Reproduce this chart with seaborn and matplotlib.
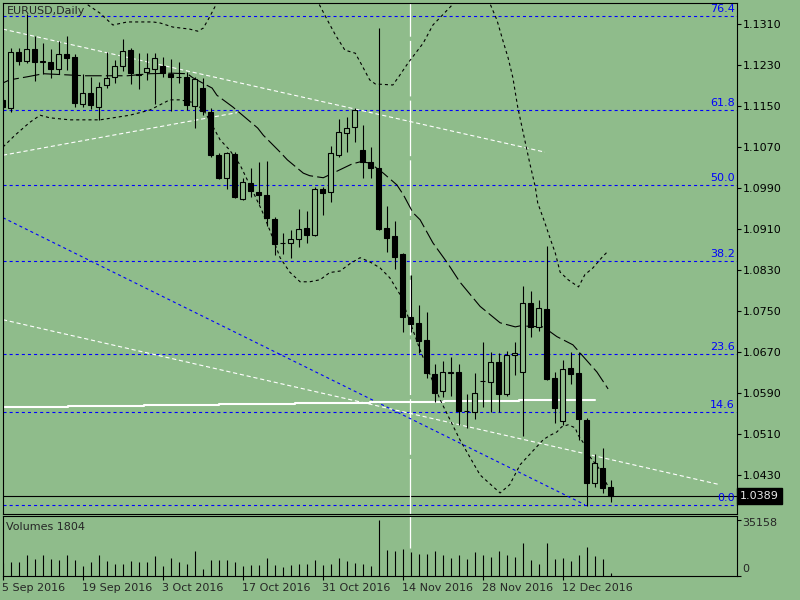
import numpy as np
import pandas as pd
import matplotlib
matplotlib.use("Agg")
import matplotlib.pyplot as plt
import matplotlib.transforms as mtransforms
import seaborn as sns

# chart texts
symbol_title = "EURUSD,Daily"
volume_title = "Volumes 1804"
date_labels = ["5 Sep 2016", "19 Sep 2016", "3 Oct 2016", "17 Oct 2016",
               "31 Oct 2016", "14 Nov 2016", "28 Nov 2016", "12 Dec 2016"]
date_label_bars = [0, 10, 20, 30, 40, 50, 60, 70]

# daily candles, 5 Sep 2016 .. 20 Dec 2016
opens = [1.1162, 1.1146, 1.1255, 1.1238, 1.1261, 1.1236, 1.1236, 1.1222, 1.1251, 1.1246,
         1.1154, 1.1175, 1.1148, 1.1191, 1.1207, 1.1228, 1.1259, 1.1212, 1.1216, 1.1222,
         1.1228, 1.1213, 1.1207, 1.1207, 1.1150, 1.1185, 1.1138, 1.1055, 1.1010, 1.1057,
         1.0969, 1.1000, 1.0982, 1.0977, 1.0930, 1.0883, 1.0883, 1.0891, 1.0912, 1.0899,
         1.0988, 1.0982, 1.1055, 1.1097, 1.1109, 1.1064, 1.1041, 1.1029, 1.0912, 1.0897,
         1.0862, 1.0739, 1.0727, 1.0694, 1.0627, 1.0594, 1.0629, 1.0631, 1.0555, 1.0553,
         1.0614, 1.0612, 1.0651, 1.0589, 1.0665, 1.0631, 1.0766, 1.0719, 1.0754, 1.0620,
         1.0536, 1.0639, 1.0629, 1.0538, 1.0415, 1.0444, 1.0407]
highs = [1.1166, 1.1263, 1.1263, 1.1330, 1.1287, 1.1273, 1.1261, 1.1277, 1.1287, 1.1251,
         1.1213, 1.1207, 1.1197, 1.1255, 1.1240, 1.1281, 1.1263, 1.1253, 1.1253, 1.1253,
         1.1246, 1.1242, 1.1236, 1.1216, 1.1207, 1.1205, 1.1146, 1.1058, 1.1060, 1.1060,
         1.1010, 1.1029, 1.1041, 1.1043, 1.0934, 1.0902, 1.0908, 1.0949, 1.0945, 1.0992,
         1.0992, 1.1072, 1.1125, 1.1129, 1.1146, 1.1113, 1.1070, 1.1302, 1.0955, 1.0926,
         1.0863, 1.0821, 1.0762, 1.0748, 1.0647, 1.0653, 1.0661, 1.0647, 1.0589, 1.0629,
         1.0690, 1.0670, 1.0668, 1.0672, 1.0690, 1.0799, 1.0789, 1.0772, 1.0877, 1.0631,
         1.0655, 1.0670, 1.0670, 1.0542, 1.0470, 1.0483, 1.0421]
lows = [1.1144, 1.1138, 1.1230, 1.1234, 1.1199, 1.1213, 1.1205, 1.1213, 1.1220, 1.1148,
        1.1148, 1.1144, 1.1123, 1.1185, 1.1195, 1.1218, 1.1193, 1.1183, 1.1201, 1.1154,
        1.1207, 1.1140, 1.1195, 1.1142, 1.1107, 1.1133, 1.1051, 1.1008, 1.0988, 1.0971,
        1.0967, 1.0973, 1.0959, 1.0916, 1.0860, 1.0862, 1.0854, 1.0875, 1.0883, 1.0897,
        1.0938, 1.0963, 1.1051, 1.1060, 1.1080, 1.1010, 1.1010, 1.0908, 1.0865, 1.0832,
        1.0709, 1.0709, 1.0668, 1.0620, 1.0573, 1.0583, 1.0585, 1.0528, 1.0522, 1.0540,
        1.0563, 1.0553, 1.0553, 1.0585, 1.0626, 1.0507, 1.0700, 1.0711, 1.0616, 1.0532,
        1.0528, 1.0608, 1.0499, 1.0370, 1.0407, 1.0395, 1.0378]
closes = [1.1148, 1.1255, 1.1238, 1.1261, 1.1236, 1.1237, 1.1222, 1.1251, 1.1244, 1.1156,
          1.1175, 1.1152, 1.1187, 1.1205, 1.1228, 1.1257, 1.1214, 1.1211, 1.1224, 1.1244,
          1.1214, 1.1207, 1.1206, 1.1152, 1.1203, 1.1140, 1.1055, 1.1010, 1.1058, 1.0973,
          1.1002, 1.0984, 1.0977, 1.0932, 1.0881, 1.0882, 1.0891, 1.0910, 1.0899, 1.0988,
          1.0980, 1.1058, 1.1099, 1.1107, 1.1142, 1.1041, 1.1029, 1.0910, 1.0893, 1.0856,
          1.0739, 1.0725, 1.0692, 1.0629, 1.0590, 1.0631, 1.0630, 1.0555, 1.0554, 1.0590,
          1.0613, 1.0651, 1.0589, 1.0665, 1.0668, 1.0766, 1.0719, 1.0756, 1.0618, 1.0561,
          1.0637, 1.0627, 1.0540, 1.0415, 1.0454, 1.0405, 1.0389]
volumes = [8000, 8680, 8680, 13020, 10420, 13020, 10420, 9770, 13020, 9770,
           6510, 8680, 13020, 9110, 7810, 7810, 9110, 8680, 8680, 12370,
           6510, 11070, 8680, 7810, 15620, 4340, 9770, 9770, 9770, 8680,
           6510, 6940, 6940, 11070, 6940, 5640, 6940, 7810, 7810, 9770,
           6940, 7810, 11070, 9110, 8250, 7810, 6510, 35158, 16280, 15620,
           16930, 15190, 13670, 13670, 15620, 13020, 11500, 13020, 10420, 15190,
           13020, 11720, 15620, 13020, 11720, 20830, 9770, 7810, 20830, 10420,
           11070, 9110, 13020, 18010, 12370, 10420, 1804]

price_ticks = [1.1310, 1.1230, 1.1150, 1.1070, 1.0990, 1.0910, 1.0830,
               1.0750, 1.0670, 1.0590, 1.0510, 1.0430]
last_price = 1.0389
volume_max = 35158

# fibonacci retracement
fib_low = 1.0371
fib_high = 1.1620
fib_levels = [0.0, 14.6, 23.6, 38.2, 50.0, 61.8, 76.4]

# indicator lines, (bar position, price)
ma_x = [0.06, 0.9, 3.1, 5.1, 10.3, 15.6, 18.4, 21.2, 23.1, 23.8, 26.2, 26.8, 28.8, 29.7,
        31.9, 32.6, 34.7, 35.6, 37.6, 38.4, 40.1, 41.3, 43.7, 44.7, 45.9, 47.6, 49.3,
        50.1, 51.3, 52.2, 53.8, 55.6, 57.2, 59.7, 62.2, 64.1, 64.7, 67.6, 69.3, 71.3,
        72.6, 74.3, 75.7]
ma_y = [1.1195, 1.1201, 1.1207, 1.1213, 1.1209, 1.1209, 1.1213, 1.1214, 1.1213, 1.1205,
        1.1185, 1.1171, 1.1148, 1.1136, 1.1107, 1.1093, 1.1060, 1.1045, 1.1019, 1.1014,
        1.1010, 1.1019, 1.1037, 1.1041, 1.1039, 1.1019, 1.0996, 1.0977, 1.0942, 1.0928,
        1.0883, 1.0844, 1.0806, 1.0759, 1.0727, 1.0719, 1.0721, 1.0719, 1.0700, 1.0684,
        1.0661, 1.0631, 1.0598]

upper_a_x = [9.5, 10.7, 12.2, 13.8, 15.6, 18.8, 19.7, 21.3, 23.4, 24.4, 25.1, 25.9, 26.8, 27.5]
upper_a_y = [1.1390, 1.1347, 1.1331, 1.1308, 1.1314, 1.1314, 1.1312, 1.1304, 1.1300, 1.1296,
             1.1302, 1.1324, 1.1351, 1.1380]
upper_b_x = [38.8, 39.4, 40.6, 41.6, 42.8, 44.1, 44.7, 45.9, 46.6, 48.8, 49.7, 50.7, 52.6,
             53.8, 56.2, 57.0]
upper_b_y = [1.1380, 1.1354, 1.1318, 1.1289, 1.1259, 1.1253, 1.1236, 1.1201, 1.1193, 1.1191,
             1.1211, 1.1234, 1.1273, 1.1308, 1.1347, 1.1370]
upper_c_x = [60.5, 60.9, 61.8, 62.6, 63.2, 63.8, 64.4, 65.1, 65.9, 66.6, 66.9, 67.8, 68.4,
             69.1, 69.7, 70.7, 72.0, 72.8, 73.8, 74.9, 75.7]
upper_c_y = [1.1370, 1.1351, 1.1318, 1.1275, 1.1244, 1.1205, 1.1148, 1.1097, 1.1039, 1.0992,
             1.0961, 1.0922, 1.0894, 1.0863, 1.0826, 1.0811, 1.0797, 1.0821, 1.0834, 1.0854,
             1.0867]
lower_x = [0.06, 1.56, 3.4, 4.7, 5.9, 8.4, 12.2, 15.9, 18.4, 20.9, 22.2, 24.1, 25.3, 26.2,
           27.2, 28.4, 29.7, 30.9, 32.4, 33.4, 34.7, 35.9, 37.2, 38.4, 39.7, 40.9, 42.2,
           43.4, 44.7, 45.9, 47.2, 48.4, 49.7, 52.2, 54.7, 57.2, 59.7, 62.2, 63.4, 64.7,
           67.6, 68.4, 69.3, 69.9, 70.7, 71.6, 71.9, 72.6, 73.4, 74.7, 75.7]
lower_y = [1.1070, 1.1093, 1.1118, 1.1132, 1.1127, 1.1123, 1.1123, 1.1132, 1.1142, 1.1162,
           1.1162, 1.1156, 1.1138, 1.1113, 1.1084, 1.1064, 1.1035, 1.0996, 1.0947, 1.0908,
           1.0854, 1.0826, 1.0807, 1.0807, 1.0811, 1.0825, 1.0828, 1.0842, 1.0854, 1.0846,
           1.0834, 1.0815, 1.0782, 1.0674, 1.0577, 1.0498, 1.0430, 1.0395, 1.0411, 1.0450,
           1.0499, 1.0507, 1.0514, 1.0524, 1.0528, 1.0522, 1.0509, 1.0493, 1.0466, 1.0440,
           1.0407]

step_x = [0.0, 8.19, 17.7, 27.06, 36.56, 45.94, 55.19, 64.56, 74.06]
step_y = [1.0562, 1.0564, 1.0566, 1.0568, 1.0570, 1.0572, 1.0574, 1.0576, 1.0576]

white_upper_x, white_upper_y = [0.06, 67.8], [1.1300, 1.1060]
white_short_x, white_short_y = [0.06, 29.3], [1.1054, 1.1137]
white_long_x, white_long_y = [0.06, 89.7], [1.0733, 1.0411]
blue_trend_x, blue_trend_y = [0.06, 72.8], [1.0932, 1.0372]
vline_bar = 50.94

bg = "#8fbc8b"
sns.set_theme(style="ticks", rc={"axes.facecolor": bg, "figure.facecolor": bg})
plt.rcParams["font.family"] = ["DejaVu Sans"]
plt.rcParams["lines.scale_dashes"] = False

df = pd.DataFrame({"open": opens, "high": highs, "low": lows, "close": closes,
                   "volume": volumes})
df["bar"] = np.arange(len(df))
bull = df["close"] >= df["open"]

W, H = 800, 600
fig = plt.figure(figsize=(8, 6), dpi=100)
x_left, x_right = (3 - 2.5) / 8, (737 - 2.5) / 8
ax = fig.add_axes([3 / W, 1 - 514 / H, 734 / W, 511 / H])
axv = fig.add_axes([3 / W, 1 - 576 / H, 734 / W, 60 / H])

for a in (ax, axv):
    a.set_facecolor(bg)
    a.set_xlim(x_left, x_right)
    for s in a.spines.values():
        s.set_color("black")
        s.set_linewidth(0.8)
ax.set_ylim(1.0353902, 1.1350976)

dot = (0, (2.2, 2.2))
fib_prices = [fib_low + (fib_high - fib_low) * lv / 100 for lv in fib_levels]
for lv, p in zip(fib_levels, fib_prices):
    ax.axhline(p, color="blue", lw=0.8, ls=dot, zorder=1)
    ax.text(0.997, p + 0.0004, f"{lv:.1f}", color="blue", fontsize=8, ha="right", va="bottom",
            transform=mtransforms.blended_transform_factory(ax.transAxes, ax.transData))

ax.axhline(last_price, color="black", lw=0.8, zorder=1)
ax.axvline(vline_bar, color="white", lw=0.9, ls=(0, (40, 3)), zorder=1)
axv.axvline(vline_bar, ymin=0.47, color="white", lw=0.9, ls=(0, (40, 3)), zorder=1)

# trend lines and indicators
sns.lineplot(x=white_upper_x, y=white_upper_y, ax=ax, color="white", lw=0.8, ls=(0, (3, 2)))
sns.lineplot(x=white_short_x, y=white_short_y, ax=ax, color="white", lw=0.8, ls=(0, (3, 2)))
sns.lineplot(x=white_long_x, y=white_long_y, ax=ax, color="white", lw=0.8, ls=(0, (3, 2)))
sns.lineplot(x=blue_trend_x, y=blue_trend_y, ax=ax, color="blue", lw=0.8, ls=dot)
sns.lineplot(x=step_x, y=step_y, ax=ax, color="white", lw=1.5, drawstyle="steps-post",
             estimator=None, sort=False)
for bx, by in [(upper_a_x, upper_a_y), (upper_b_x, upper_b_y), (upper_c_x, upper_c_y),
               (lower_x, lower_y)]:
    sns.lineplot(x=bx, y=by, ax=ax, color="black", lw=0.8, ls=dot, estimator=None, sort=False)
sns.lineplot(x=ma_x, y=ma_y, ax=ax, color="black", lw=0.8, ls=(0, (12, 3)),
             estimator=None, sort=False)

# candles
ax.vlines(df["bar"], df["low"], df["high"], color="black", lw=0.8, zorder=3)
ax.bar(df["bar"], (df["close"] - df["open"]).abs(), bottom=df[["open", "close"]].min(axis=1),
       width=0.55, color=np.where(bull, bg, "black"), edgecolor="black", linewidth=0.8, zorder=4)

ax.set_xticks([])
ax.yaxis.tick_right()
ax.set_yticks(price_ticks)
ax.set_yticklabels([f"{t:.4f}" for t in price_ticks])
ax.tick_params(axis="y", direction="out", length=3, width=0.8, pad=1.5, labelsize=8,
               colors="black")
ax.set_xlabel("")
ax.set_ylabel("")
ax.text(1.004, last_price, f"{last_price:.4f}", color="#e8e8e8", fontsize=8, ha="left",
        va="center", clip_on=False,
        transform=mtransforms.blended_transform_factory(ax.transAxes, ax.transData),
        bbox=dict(boxstyle="square,pad=0.25", facecolor="black", edgecolor="black"))

# volumes
axv.vlines(df["bar"], 0, df["volume"], color="black", lw=0.8)
axv.set_ylim(0, volume_max * 60 / 56)
axv.yaxis.tick_right()
axv.set_yticks([0, volume_max])
axv.set_yticklabels([])
axv.set_xticks(date_label_bars)
axv.set_xticklabels([])
axv.tick_params(direction="out", length=3, width=0.8, colors="black")
tr = mtransforms.blended_transform_factory(axv.transData, fig.transFigure)
for b, lab in zip(date_label_bars, date_labels):
    axv.text(b - 0.1, 1 - 588 / H, lab, transform=tr, ha="left", va="center", fontsize=8,
             clip_on=False)

fig.text(7 / W, 1 - 11 / H, symbol_title, fontsize=8, va="center")
fig.text(6 / W, 1 - 527 / H, volume_title, fontsize=8, va="center")
fig.text(742 / W, 1 - 523 / H, str(volume_max), fontsize=8, va="center")
fig.text(742 / W, 1 - 569 / H, "0", fontsize=8, va="center")

fig.savefig("out.png", dpi=100, facecolor=bg)
